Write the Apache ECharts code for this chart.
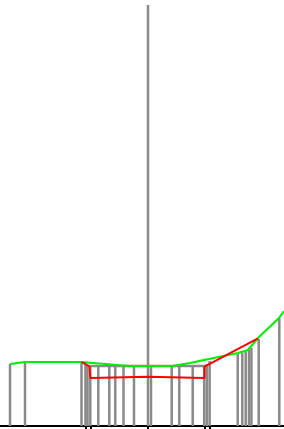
<!DOCTYPE html>
<html>
<head>
<meta charset="utf-8">
<script src="https://cdn.jsdelivr.net/npm/echarts@6/dist/echarts.min.js"></script>
<style>
  html, body { margin: 0; padding: 0; background: #fff; }
  #chart { width: 284px; height: 429px; }
</style>
</head>
<body>
<div id="chart"></div>
<script>
// stem positions and heights
const stemX = [10, 25, 81.5, 85.5, 87.5, 90.3, 98.3, 109.3, 115.3, 123.5, 134, 148, 151, 171.7, 179.3, 192.7, 204.2, 206.8, 209.6, 237.7, 242.3, 245.7, 249, 251.4, 258.7, 279.3];
const stemH = [62, 64, 64, 63, 61.5, 60, 60, 60, 60, 60, 60, 421, 60, 60, 60, 60, 60, 62, 65, 72, 73.5, 74.5, 76, 78, 87, 108];

// flat gray level
const levelX = [87, 205];
const levelY = [60, 60];

// green curve
const greenX = [10, 25, 81.5, 90, 130, 148, 172, 190, 204, 238, 248, 258, 279, 284];
const greenY = [62, 64, 64, 63.3, 60, 60, 60, 63, 66, 73, 76, 88, 108, 115];

// red curve
const redX = [81.5, 89.5, 90.3, 148, 204.5, 204.5, 258];
const redY = [64, 59.5, 48, 49.3, 48, 59.3, 87.7];

// axis ticks
const tickX = [85.3, 90.3, 147.7, 204.3, 209.3];

const zip = (xs, ys) => xs.map((x, i) => [x, ys[i]]);

const chart = echarts.init(document.getElementById('chart'), null, { renderer: 'canvas' });

chart.setOption({
  animation: false,
  grid: { left: 0, right: 0, top: 0, bottom: 3, containLabel: false },
  xAxis: {
    type: 'value',
    min: 0,
    max: 284,
    axisLine: { show: true, onZero: false, lineStyle: { color: '#000', width: 2 } },
    axisTick: { show: true, customValues: tickX, length: 3, lineStyle: { color: '#000', width: 2 } },
    axisLabel: { show: false },
    splitLine: { show: false }
  },
  yAxis: {
    type: 'value',
    min: 0,
    max: 426,
    show: false,
    splitLine: { show: false }
  },
  series: [
    {
      type: 'custom',
      data: zip(stemX, stemH),
      renderItem: (params, api) => {
        const p0 = api.coord([api.value(0), 0]);
        const p1 = api.coord([api.value(0), api.value(1)]);
        return {
          type: 'line',
          shape: { x1: p0[0], y1: p0[1], x2: p1[0], y2: p1[1] },
          style: { stroke: '#8a8a8a', lineWidth: 2.5 }
        };
      },
      z: 1
    },
    {
      type: 'line',
      data: zip(levelX, levelY),
      symbol: 'none',
      lineStyle: { color: '#8a8a8a', width: 2.5 },
      z: 2
    },
    {
      type: 'line',
      data: zip(greenX, greenY),
      symbol: 'none',
      lineStyle: { color: '#00ee00', width: 2 },
      z: 3
    },
    {
      type: 'line',
      data: zip(redX, redY),
      symbol: 'none',
      lineStyle: { color: '#ff0000', width: 2 },
      z: 4
    }
  ]
});
</script>
</body>
</html>
